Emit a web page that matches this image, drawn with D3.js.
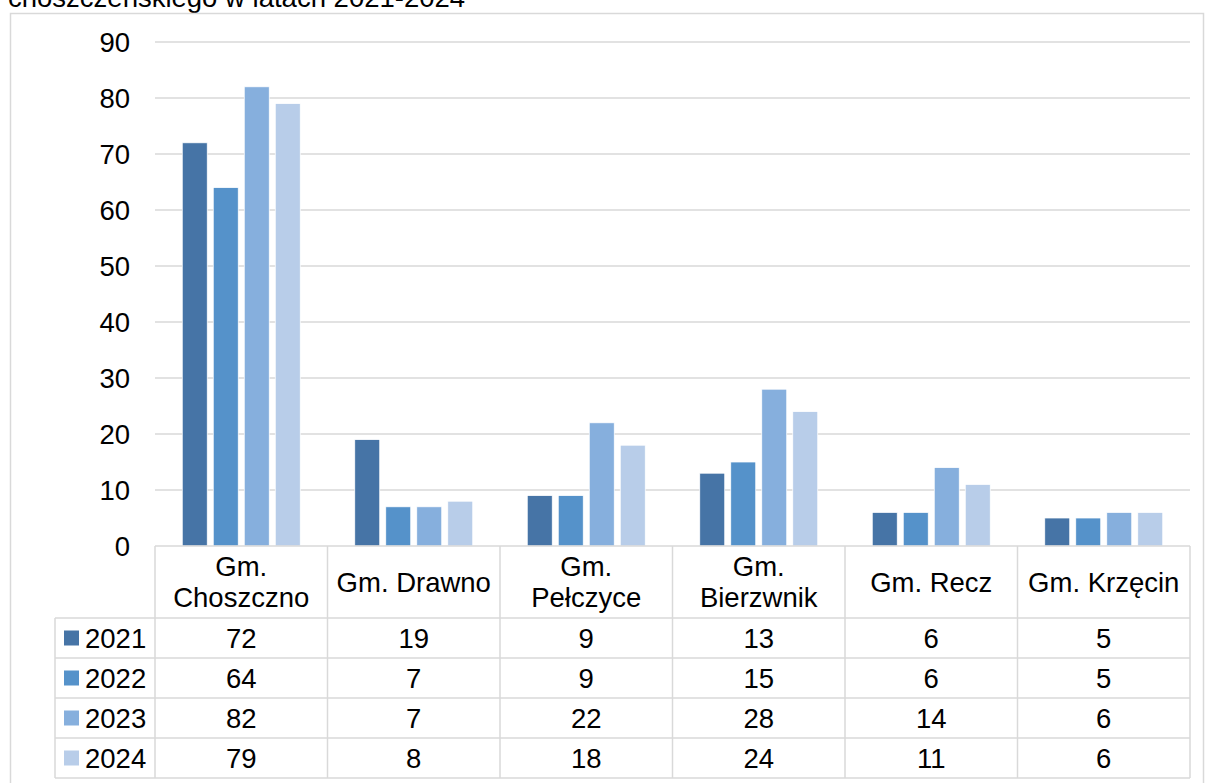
<!DOCTYPE html>
<html><head><meta charset="utf-8">
<script src="https://cdn.jsdelivr.net/npm/d3@7"></script>
<style>body{margin:0;background:#fff;} svg{display:block;font-family:"Liberation Sans",Arial,sans-serif;}</style>
</head><body>
<svg id="c" width="1209" height="783"></svg>
<script>
const title = "choszczeńskiego w latach 2021-2024";
const categories = ["Gm. Choszczno","Gm. Drawno","Gm. Pełczyce","Gm. Bierzwnik","Gm. Recz","Gm. Krzęcin"];
const categoryLines = [["Gm.","Choszczno"],["Gm. Drawno"],["Gm.","Pełczyce"],["Gm.","Bierzwnik"],["Gm. Recz"],["Gm. Krzęcin"]];
const years = ["2021","2022","2023","2024"];
const v2021 = [72,19,9,13,6,5];
const v2022 = [64,7,9,15,6,5];
const v2023 = [82,7,22,28,14,6];
const v2024 = [79,8,18,24,11,6];
const yTicks = [0,10,20,30,40,50,60,70,80,90];
const colors = ["#4674a6","#5592ca","#86afdd","#b8cde9"];
const series = [v2021,v2022,v2023,v2024];

const FS = 27.5;
const svg = d3.select("#c");
const grid = "#d9d9d9";
const L = 155, R = 1190, T = 42, B = 546;
const y = d3.scaleLinear().domain([0,90]).range([B,T]);
const x0 = d3.scaleBand().domain(categories).range([L,R]).padding(0);
const groupW = 118;
const x1 = d3.scaleBand().domain(years).range([0,groupW]).paddingInner(0.194).paddingOuter(0);

// title (clipped at top, as in the source)
svg.append("text").attr("x",8).attr("y",7).attr("font-size",FS).attr("fill","#000").text(title);
// outer border
svg.append("rect").attr("x",10.5).attr("y",13.5).attr("width",1193).attr("height",800).attr("fill","none").attr("stroke",grid).attr("stroke-width",1.5);

// gridlines
svg.append("g").selectAll("line").data(yTicks.filter(d=>d>0)).join("line")
  .attr("x1",L).attr("x2",R).attr("y1",d=>y(d)).attr("y2",d=>y(d))
  .attr("stroke",grid).attr("stroke-width",1.5);

// y axis labels
const yAxis = d3.axisLeft(y).tickValues(yTicks).tickSize(0).tickPadding(0);
const ga = svg.append("g").attr("transform",`translate(130,0)`).call(yAxis);
ga.select(".domain").remove();
ga.selectAll("text").attr("font-size",FS).attr("fill","#000").attr("font-family","Liberation Sans, Arial, sans-serif").attr("dy","0.35em");

// bars
series.forEach((vals,si)=>{
  svg.append("g").selectAll("rect").data(vals).join("rect")
    .attr("x",(d,i)=>x0(categories[i]) + (x0.bandwidth()-groupW)/2 + x1(years[si]))
    .attr("y",d=>y(d)).attr("width",x1.bandwidth()).attr("height",d=>B-y(d))
    .attr("fill",colors[si]).attr("stroke","#fff").attr("stroke-width",0.75);
});

// data table
const headerH = 72, rowH = 40, tblL = 55;
const tblTop = B, rowsTop = B + headerH, tblBottom = rowsTop + rowH*years.length;
const tg = svg.append("g");
tg.append("line").attr("x1",L).attr("x2",R).attr("y1",tblTop).attr("y2",tblTop).attr("stroke",grid).attr("stroke-width",1.5);
for (let r=0;r<=years.length;r++){
  const yy = rowsTop + r*rowH;
  tg.append("line").attr("x1",tblL).attr("x2",R).attr("y1",yy).attr("y2",yy).attr("stroke",grid).attr("stroke-width",1.5);
}
categories.forEach((c,i)=>{
  tg.append("line").attr("x1",x0(c)).attr("x2",x0(c)).attr("y1",tblTop).attr("y2",tblBottom).attr("stroke",grid).attr("stroke-width",1.5);
});
tg.append("line").attr("x1",R).attr("x2",R).attr("y1",tblTop).attr("y2",tblBottom).attr("stroke",grid).attr("stroke-width",1.5);
tg.append("line").attr("x1",tblL).attr("x2",tblL).attr("y1",rowsTop).attr("y2",tblBottom).attr("stroke",grid).attr("stroke-width",1.5);

categories.forEach((c,i)=>{
  const lines = categoryLines[i];
  const cx = x0(c) + x0.bandwidth()/2;
  const cy = tblTop + headerH/2;
  lines.forEach((ln,j)=>{
    tg.append("text").attr("x",cx).attr("y",cy + (j - (lines.length-1)/2)*31).attr("dy","0.35em")
      .attr("text-anchor","middle").attr("font-size",FS).attr("fill","#000").text(ln);
  });
});
years.forEach((yr,r)=>{
  const cy = rowsTop + r*rowH + rowH/2;
  tg.append("rect").attr("x",64).attr("y",cy-7.5).attr("width",15).attr("height",15).attr("fill",colors[r]);
  tg.append("text").attr("x",85).attr("y",cy).attr("dy","0.35em").attr("font-size",FS).attr("fill","#000").text(yr);
  series[r].forEach((v,i)=>{
    tg.append("text").attr("x",x0(categories[i])+x0.bandwidth()/2).attr("y",cy).attr("dy","0.35em")
      .attr("text-anchor","middle").attr("font-size",FS).attr("fill","#000").text(v);
  });
});
</script>
</body></html>
